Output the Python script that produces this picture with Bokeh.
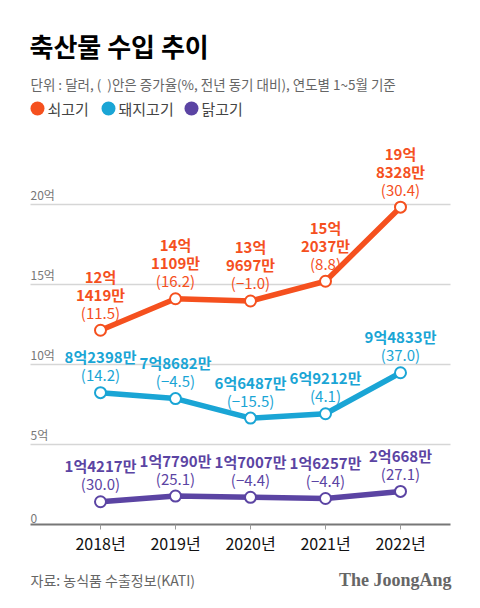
from bokeh.plotting import figure
from bokeh.models import Range1d
from bokeh.core.properties import value
from bokeh.embed import file_html
from bokeh.resources import INLINE

years = [2018, 2019, 2020, 2021, 2022]
year_labels = ["2018년", "2019년", "2020년", "2021년", "2022년"]
# values in 만 달러
beef = [121419, 141109, 139697, 152037, 198328]
pork = [82398, 78682, 66487, 69212, 94833]
chicken = [14217, 17790, 17007, 16257, 20668]
# growth rate, % vs previous year
beef_pct = [11.5, 16.2, -1.0, 8.8, 30.4]
pork_pct = [14.2, -4.5, -15.5, 4.1, 37.0]
chicken_pct = [30.0, 25.1, -4.4, -4.4, 27.1]
y_ticks = [0, 5, 10, 15, 20]
y_tick_labels = ["0", "5억", "10억", "15억", "20억"]
series_names = ["쇠고기", "돼지고기", "닭고기"]
colors = ["#F5501E", "#1AA5D5", "#5B44A3"]

FONT = "Noto Sans CJK KR"
W, H = 480, 608

# pixel layout: year 2018 at px 100, 75 px per year; value 0 at py 524, 16 px per 억
X0_PX, X_STEP = 100, 75
Y0_PX, Y_STEP = 524, 16
xr = Range1d(2018 - X0_PX / X_STEP, 2018 + (W - X0_PX) / X_STEP)
yr = Range1d(-(H - Y0_PX) / Y_STEP, Y0_PX / Y_STEP)

def px_x(px):
    return 2018 + (px - X0_PX) / X_STEP

def px_y(py):
    return (Y0_PX - py) / Y_STEP

p = figure(width=W, height=H, output_backend="svg", toolbar_location=None,
           x_range=xr, y_range=yr, x_axis_location=None, y_axis_location=None,
           min_border=0, min_border_left=0, min_border_right=0,
           min_border_top=0, min_border_bottom=0, outline_line_color=None,
           background_fill_color="white", border_fill_color="white")
p.xgrid.visible = False
p.ygrid.visible = False

plot_left, plot_right = px_x(30), px_x(450)

# grid lines
grid_ticks = [t for t in y_ticks if t > 0]
p.segment(x0=[plot_left] * len(grid_ticks), x1=[plot_right] * len(grid_ticks),
          y0=grid_ticks, y1=grid_ticks, line_color="#d6d6d6", line_width=1.5)
# x axis line + ticks
p.segment(x0=[plot_left], x1=[plot_right], y0=[0], y1=[0], line_color="#777777", line_width=2)
tick_len = 5 / Y_STEP
p.segment(x0=years, x1=years, y0=[0] * 5, y1=[-tick_len] * 5, line_color="#999999", line_width=1)
p.text(x=years, y=[0] * 5, text=year_labels, text_font=value(FONT), text_font_size="16px",
       text_color="#111111", text_align="center", text_baseline="middle", y_offset=18)

# y tick labels above grid lines
p.text(x=[plot_left] * len(y_ticks), y=y_ticks, text=y_tick_labels,
       text_font=value(FONT), text_font_size="12px", text_color="#777777",
       text_align="left", text_baseline="bottom", y_offset=-2)

def split_val(v):
    return divmod(v, 10000)

def fmt_pct(v):
    s = "%.1f" % abs(v)
    return "(\u2212%s)" % s if v < 0 else "(%s)" % s

for vals, pcts, col, split in [(beef, beef_pct, colors[0], True),
                               (pork, pork_pct, colors[1], False),
                               (chicken, chicken_pct, colors[2], False)]:
    ys = [v / 10000 for v in vals]
    p.line(years, ys, line_color=col, line_width=5.5)
    p.scatter(years, ys, size=11, fill_color="white", line_color=col, line_width=2)
    pct_text = [fmt_pct(s) for s in pcts]
    p.text(x=years, y=ys, text=pct_text, text_font=value(FONT), text_font_size="15px",
           text_color=col, text_align="center", text_baseline="middle", y_offset=-18)
    if split:
        l1 = ["%d억" % split_val(v)[0] for v in vals]
        l2 = ["%d만" % split_val(v)[1] for v in vals]
        p.text(x=years, y=ys, text=l2, text_font=value(FONT), text_font_size="15px",
               text_font_style="bold", text_color=col, text_align="center",
               text_baseline="middle", y_offset=-36)
        p.text(x=years, y=ys, text=l1, text_font=value(FONT), text_font_size="15px",
               text_font_style="bold", text_color=col, text_align="center",
               text_baseline="middle", y_offset=-54)
    else:
        l1 = ["%d억%d만" % split_val(v) for v in vals]
        p.text(x=years, y=ys, text=l1, text_font=value(FONT), text_font_size="15px",
               text_font_style="bold", text_color=col, text_align="center",
               text_baseline="middle", y_offset=-36)

def lab(text, rx, ry, size, color, style="normal", align="left", font=FONT):
    p.text(x=[px_x(rx)], y=[px_y(ry)], text=[text], text_font=value(font),
           text_font_size=size, text_color=color, text_font_style=style,
           text_align=align, text_baseline="middle")

lab("축산물 수입 추이", 29, 45, "26px", "#000000", "bold")
lab("단위 : 달러, (\u00a0\u00a0)안은 증가율(%, 전년 동기 대비), 연도별 1~5월 기준", 30, 83,
    "13.5px", "#666666")

legend_px = [37, 108, 191]
p.scatter(x=[px_x(v) for v in legend_px], y=[px_y(108)] * 3, size=14,
          fill_color=colors, line_color=None)
for name, lx in zip(series_names, legend_px):
    lab(name, lx + 10, 108, "15px", "#444444")

lab("자료: 농식품 수출정보(KATI)", 30, 579, "14px", "#666666")
lab("The JoongAng", 451, 579, "18px", "#666666", "bold", "right", "Liberation Serif")

open("out.html", "w").write(file_html(p, INLINE))
